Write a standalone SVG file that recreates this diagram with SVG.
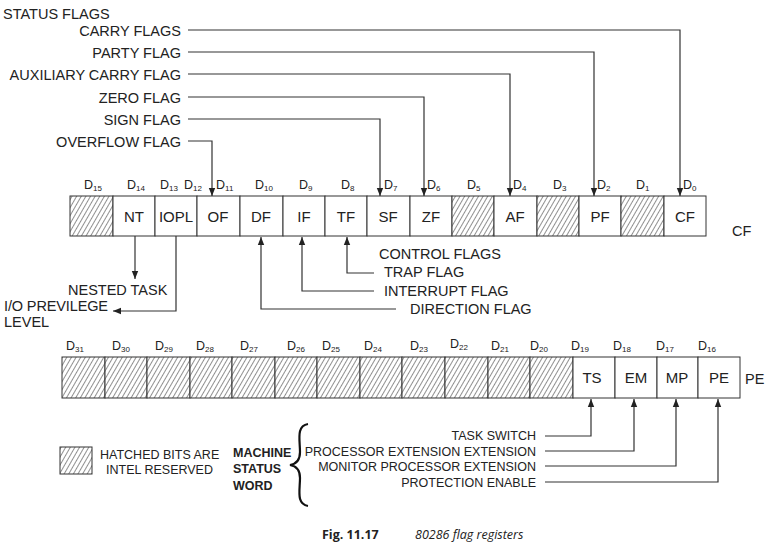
<svg xmlns="http://www.w3.org/2000/svg" width="768" height="546" viewBox="0 0 768 546">
<style>
text{font-family:"Liberation Sans",Arial,sans-serif;fill:#222}
.l{font-size:14.5px}
.s{font-size:12.5px}
.c{font-size:15px;text-anchor:middle}
.d{font-size:12.5px}
.d tspan{font-size:8px}
.cell{fill:#fff;stroke:#333;stroke-width:1}
.h{fill:url(#hatch);stroke:#333;stroke-width:1}
.w{fill:none;stroke:#333;stroke-width:1.2}
</style>
<defs>
<pattern id="hatch" patternUnits="userSpaceOnUse" width="4" height="4" patternTransform="rotate(30)">
<rect width="4" height="4" fill="#fff"/><line x1="0" y1="0" x2="0" y2="4" stroke="#333" stroke-width="1.1"/>
</pattern>
<marker id="a" viewBox="0 0 10 10" refX="10" refY="5" markerWidth="7" markerHeight="7" orient="auto-start-reverse"><path d="M0,1 L10,5 L0,9 z" fill="#222"/></marker>
</defs>
<rect width="768" height="546" fill="#fff"/>
<text class="l" x="3" y="19">STATUS FLAGS</text>
<g text-anchor="end" class="l">
<text x="181" y="36">CARRY FLAGS</text>
<text x="181" y="58">PARTY FLAG</text>
<text x="181" y="80">AUXILIARY CARRY FLAG</text>
<text x="181" y="103">ZERO FLAG</text>
<text x="181" y="125">SIGN FLAG</text>
<text x="181" y="147">OVERFLOW FLAG</text>
</g>
<g id="bits16" class="d">
<text x="84" y="189">D<tspan dy="2">15</tspan></text>
<text x="127" y="189">D<tspan dy="2">14</tspan></text>
<text x="160" y="189">D<tspan dy="2">13</tspan></text>
<text x="184" y="189">D<tspan dy="2">12</tspan></text>
<text x="216" y="189">D<tspan dy="2">11</tspan></text>
<text x="255" y="189">D<tspan dy="2">10</tspan></text>
<text x="299" y="189">D<tspan dy="2">9</tspan></text>
<text x="341" y="189">D<tspan dy="2">8</tspan></text>
<text x="384" y="189">D<tspan dy="2">7</tspan></text>
<text x="427" y="189">D<tspan dy="2">6</tspan></text>
<text x="467" y="189">D<tspan dy="2">5</tspan></text>
<text x="513" y="189">D<tspan dy="2">4</tspan></text>
<text x="553" y="189">D<tspan dy="2">3</tspan></text>
<text x="597" y="189">D<tspan dy="2">2</tspan></text>
<text x="636" y="189">D<tspan dy="2">1</tspan></text>
<text x="683" y="189">D<tspan dy="2">0</tspan></text>
</g>
<g id="flagreg">
<rect class="h" x="70" y="196" width="43" height="40"/>
<rect class="cell" x="113" y="196" width="42" height="40"/><text class="c" x="134" y="222">NT</text>
<rect class="cell" x="155" y="196" width="42" height="40"/><text class="c" x="176" y="222">IOPL</text>
<rect class="cell" x="197" y="196" width="43" height="40"/><text class="c" x="218" y="222">OF</text>
<rect class="cell" x="240" y="196" width="43" height="40"/><text class="c" x="261" y="222">DF</text>
<rect class="cell" x="283" y="196" width="42" height="40"/><text class="c" x="304" y="222">IF</text>
<rect class="cell" x="325" y="196" width="42" height="40"/><text class="c" x="346" y="222">TF</text>
<rect class="cell" x="367" y="196" width="43" height="40"/><text class="c" x="388" y="222">SF</text>
<rect class="cell" x="410" y="196" width="42" height="40"/><text class="c" x="431" y="222">ZF</text>
<rect class="h" x="452" y="196" width="42" height="40"/>
<rect class="cell" x="494" y="196" width="43" height="40"/><text class="c" x="515" y="222">AF</text>
<rect class="h" x="537" y="196" width="42" height="40"/>
<rect class="cell" x="579" y="196" width="42" height="40"/><text class="c" x="600" y="222">PF</text>
<rect class="h" x="621" y="196" width="43" height="40"/>
<rect class="cell" x="664" y="196" width="42" height="40"/><text class="c" x="685" y="222">CF</text>
</g>
<text class="l" x="732" y="236">CF</text>
<g class="l">
<text x="379" y="259">CONTROL FLAGS</text>
<text x="384" y="277">TRAP FLAG</text>
<text x="384" y="296">INTERRUPT FLAG</text>
<text x="410" y="314">DIRECTION FLAG</text>
<text x="68" y="295">NESTED TASK</text>
<text x="4" y="311" textLength="104">I/O PREVILEGE</text>
<text x="4" y="327">LEVEL</text>
</g>
<g id="connectors" class="w">
<path d="M188,141 H212 V196" marker-end="url(#a)"/>
<path d="M188,119 H380 V196" marker-end="url(#a)"/>
<path d="M188,97 H424 V196" marker-end="url(#a)"/>
<path d="M188,74 H510 V196" marker-end="url(#a)"/>
<path d="M188,52 H594 V196" marker-end="url(#a)"/>
<path d="M188,30 H680 V196" marker-end="url(#a)"/>
<path d="M135,236 V279" marker-end="url(#a)"/>
<path d="M176,236 V311 H113" marker-end="url(#a)"/>
<path d="M396,309 H261 V237" marker-end="url(#a)"/>
<path d="M374,291 H302 V237" marker-end="url(#a)"/>
<path d="M374,273 H347 V237" marker-end="url(#a)"/>
<path d="M545,436 H591 V399" marker-end="url(#a)"/>
<path d="M545,451 H634 V399" marker-end="url(#a)"/>
<path d="M545,466 H676 V399" marker-end="url(#a)"/>
<path d="M545,482 H718 V399" marker-end="url(#a)"/>
</g>
<g id="bits32" class="d">
<text x="66" y="350">D<tspan dy="2">31</tspan></text>
<text x="112" y="350">D<tspan dy="2">30</tspan></text>
<text x="155" y="350">D<tspan dy="2">29</tspan></text>
<text x="196" y="350">D<tspan dy="2">28</tspan></text>
<text x="240" y="350">D<tspan dy="2">27</tspan></text>
<text x="287" y="350">D<tspan dy="2">26</tspan></text>
<text x="322" y="350">D<tspan dy="2">25</tspan></text>
<text x="364" y="350">D<tspan dy="2">24</tspan></text>
<text x="410" y="350">D<tspan dy="2">23</tspan></text>
<text x="450" y="348">D<tspan dy="2">22</tspan></text>
<text x="491" y="350">D<tspan dy="2">21</tspan></text>
<text x="530" y="350">D<tspan dy="2">20</tspan></text>
<text x="571" y="350">D<tspan dy="2">19</tspan></text>
<text x="613" y="350">D<tspan dy="2">18</tspan></text>
<text x="656" y="350">D<tspan dy="2">17</tspan></text>
<text x="698" y="350">D<tspan dy="2">16</tspan></text>
</g>
<g id="msw">
<rect class="h" x="62" y="357" width="43" height="41"/>
<rect class="h" x="105" y="357" width="42" height="41"/>
<rect class="h" x="147" y="357" width="43" height="41"/>
<rect class="h" x="190" y="357" width="42" height="41"/>
<rect class="h" x="232" y="357" width="43" height="41"/>
<rect class="h" x="275" y="357" width="42" height="41"/>
<rect class="h" x="317" y="357" width="43" height="41"/>
<rect class="h" x="360" y="357" width="42" height="41"/>
<rect class="h" x="402" y="357" width="43" height="41"/>
<rect class="h" x="445" y="357" width="43" height="41"/>
<rect class="h" x="488" y="357" width="42" height="41"/>
<rect class="h" x="530" y="357" width="43" height="41"/>
<rect class="cell" x="573" y="357" width="42" height="41"/><text class="c" x="592" y="383">TS</text>
<rect class="cell" x="615" y="357" width="42" height="41"/><text class="c" x="636" y="383">EM</text>
<rect class="cell" x="657" y="357" width="41" height="41"/><text class="c" x="677" y="383">MP</text>
<rect class="cell" x="698" y="357" width="42" height="41"/><text class="c" x="719" y="383">PE</text>
</g>
<text class="l" x="745" y="384">PE</text>
<g class="s" text-anchor="end">
<text x="536" y="440">TASK SWITCH</text>
<text x="536" y="456">PROCESSOR EXTENSION EXTENSION</text>
<text x="536" y="471">MONITOR PROCESSOR EXTENSION</text>
<text x="536" y="487">PROTECTION ENABLE</text>
</g>
<path d="M308,424 C296,426 300,440 300,452 C300,460 296,464 290,465 C296,466 300,470 300,478 C300,490 296,504 308,506" fill="none" stroke="#111" stroke-width="2.2"/>
<g class="s" style="font-weight:bold">
<text x="233" y="457">MACHINE</text>
<text x="233" y="473">STATUS</text>
<text x="233" y="490">WORD</text>
</g>
<g id="legend">
<rect class="h" x="60" y="447" width="32" height="27"/>
<text class="s" x="100" y="459">HATCHED BITS ARE</text>
<text class="s" x="106" y="474">INTEL RESERVED</text>
</g>
<text x="322" y="539" style="font-family:'Open Sans','DejaVu Sans',sans-serif;font-size:12.5px;font-weight:bold">Fig. 11.17</text>
<text x="415" y="539" style="font-family:'Open Sans','DejaVu Sans',sans-serif;font-size:12.5px;font-style:italic">80286 flag registers</text>
</svg>
